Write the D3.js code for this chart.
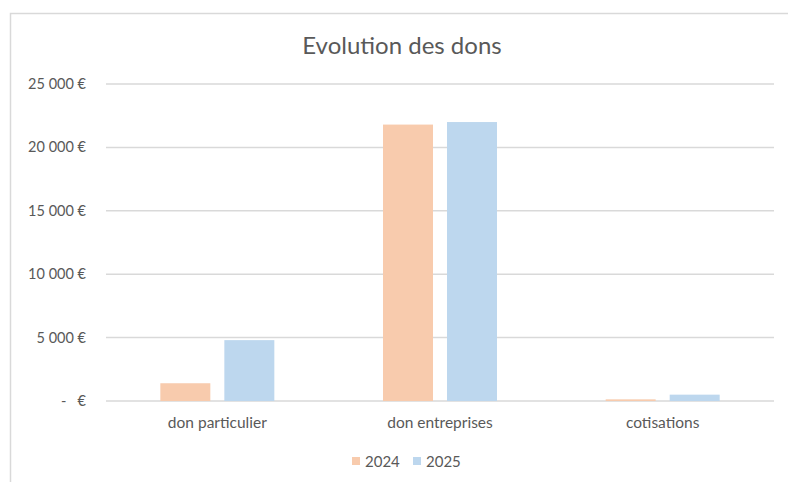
<!DOCTYPE html>
<html>
<head>
<meta charset="utf-8">
<script src="https://cdn.jsdelivr.net/npm/d3@7"></script>
<style>
  body { margin: 0; background: #fff; }
  text { font-family: Lato, "Open Sans", sans-serif; fill: #595959; }
</style>
</head>
<body>
<div id="chart"></div>
<script>
// donnees
var categories = ["don particulier", "don entreprises", "cotisations"];
var series = ["2024", "2025"];
var values2024 = [1400, 21800, 130];
var values2025 = [4800, 22000, 500];
var yTicks = [0, 5000, 10000, 15000, 20000, 25000];
var colors = ["#F8CBAD", "#BDD7EE"];

var width = 788, height = 482;

var svg = d3.select("#chart")
  .append("svg")
    .attr("width", width)
    .attr("height", height);

// cadre du graphique (coupe a droite et en bas)
svg.append("rect")
  .attr("x", 10.5)
  .attr("y", 13.5)
  .attr("width", width + 20)
  .attr("height", height + 20)
  .attr("fill", "none")
  .attr("stroke", "#D9D9D9")
  .attr("stroke-width", 1.5);

var plot = {left: 106, right: 774, top: 84, bottom: 401};

var x0 = d3.scaleBand()
  .domain(categories)
  .range([plot.left, plot.right]);

var groupW = 114;
var x1 = d3.scaleBand()
  .domain(series)
  .range([0, groupW])
  .paddingInner(0.219);

var y = d3.scaleLinear()
  .domain([0, 25000])
  .range([plot.bottom, plot.top]);

function fmt(d) {
  if (d == 0) return "-\u00a0\u00a0\u00a0€";
  return d3.format(",")(d).replace(/,/g, "\u00a0") + "\u00a0€";
}

// grille
svg.append("g")
  .selectAll("line")
  .data(yTicks)
  .enter().append("line")
    .attr("x1", plot.left)
    .attr("x2", plot.right)
    .attr("y1", function(d) { return y(d); })
    .attr("y2", function(d) { return y(d); })
    .attr("stroke", "#D9D9D9")
    .attr("stroke-width", 1.5);

svg.append("g")
  .selectAll("text")
  .data(yTicks)
  .enter().append("text")
    .attr("x", 86)
    .attr("y", function(d) { return y(d); })
    .attr("dy", "0.35em")
    .attr("text-anchor", "end")
    .style("font-size", "14.5px")
    .text(fmt);

var table = categories.map(function(c, i) {
  return {cat: c, vals: [values2024[i], values2025[i]]};
});

var groups = svg.append("g")
  .selectAll("g")
  .data(table)
  .enter().append("g")
    .attr("transform", function(d) {
      return "translate(" + (x0(d.cat) + (x0.bandwidth() - groupW) / 2) + ",0)";
    });

groups.selectAll("rect")
  .data(function(d) { return d.vals.map(function(v, i) { return {s: series[i], v: v, i: i}; }); })
  .enter().append("rect")
    .attr("x", function(d) { return x1(d.s); })
    .attr("width", x1.bandwidth())
    .attr("y", function(d) { return y(d.v); })
    .attr("height", function(d) { return y(0) - y(d.v); })
    .attr("fill", function(d) { return colors[d.i]; });

// libelles des categories
svg.append("g")
  .selectAll("text")
  .data(categories)
  .enter().append("text")
    .attr("x", function(d) { return x0(d) + x0.bandwidth() / 2; })
    .attr("y", 428)
    .attr("text-anchor", "middle")
    .style("font-size", "15.5px")
    .text(function(d) { return d; });

// titre
svg.append("text")
  .attr("x", 402)
  .attr("y", 54)
  .attr("text-anchor", "middle")
  .style("font-size", "24px")
  .text("Evolution des dons");

// legende
var legend = svg.append("g")
  .selectAll("g")
  .data(series)
  .enter().append("g")
    .attr("transform", function(d, i) { return "translate(" + (352 + i * 61) + ",457)"; });

legend.append("rect")
  .attr("width", 8)
  .attr("height", 8)
  .attr("fill", function(d, i) { return colors[i]; });

legend.append("text")
  .attr("x", 13)
  .attr("y", 9.5)
  .style("font-size", "15px")
  .text(function(d) { return d; });
</script>
</body>
</html>
